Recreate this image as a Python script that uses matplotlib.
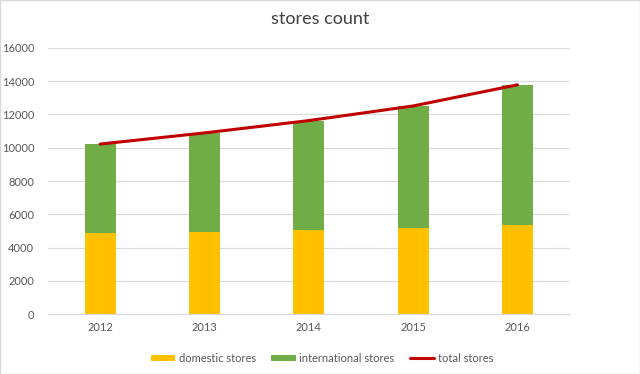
import matplotlib
matplotlib.use('Agg')
import matplotlib.pyplot as plt
import numpy as np

years = ['2012', '2013', '2014', '2015', '2016']
domestic = [4890, 4930, 5050, 5170, 5350]
international = [5330, 5960, 6580, 7340, 8430]
total = [10220, 10890, 11630, 12510, 13780]

plt.rcParams['font.family'] = ['Lato', 'DejaVu Sans']

fig = plt.figure(figsize=(6.4, 3.74), dpi=100)
ax = fig.add_axes([0.075, 0.16, 0.815, 0.712])

x = np.arange(len(years))
b1 = ax.bar(x, domestic, width=0.295, color='#FFC000', label='domestic stores', zorder=2)
b2 = ax.bar(x, international, width=0.295, bottom=domestic, color='#70AD47',
            label='international stores', zorder=2)
l1, = ax.plot(x, total, color='#C00000', linewidth=2.2, label='total stores', zorder=3,
              solid_capstyle='round')

ax.set_xlim(-0.5, 4.5)
ax.set_ylim(0, 16000)
ax.set_yticks(range(0, 16001, 2000))
ax.set_xticks(x)
ax.set_xticklabels(years)
ax.grid(axis='y', color='#D9D9D9', linewidth=0.8, zorder=0)
for s in ['top', 'right', 'left']:
    ax.spines[s].set_visible(False)
ax.spines['bottom'].set_color('#D9D9D9')
ax.tick_params(axis='both', length=0, colors='#595959', labelsize=8)
ax.tick_params(axis='y', pad=10)
ax.tick_params(axis='x', pad=6)

fig.suptitle('stores count', y=0.97, fontsize=13, color='#404040')

fig.legend([b1, b2, l1], ['domestic stores', 'international stores', 'total stores'],
           loc='lower center', bbox_to_anchor=(0.503, 0.0), ncol=3, frameon=False,
           fontsize=8, labelcolor='#595959', handlelength=2.2, handleheight=0.5,
           columnspacing=1.4, handletextpad=0.3)

fig.patches.append(plt.Rectangle((0, 0), 1, 1, transform=fig.transFigure,
                                 fill=False, edgecolor='#D9D9D9', linewidth=1))

fig.savefig('out.png', dpi=100)
